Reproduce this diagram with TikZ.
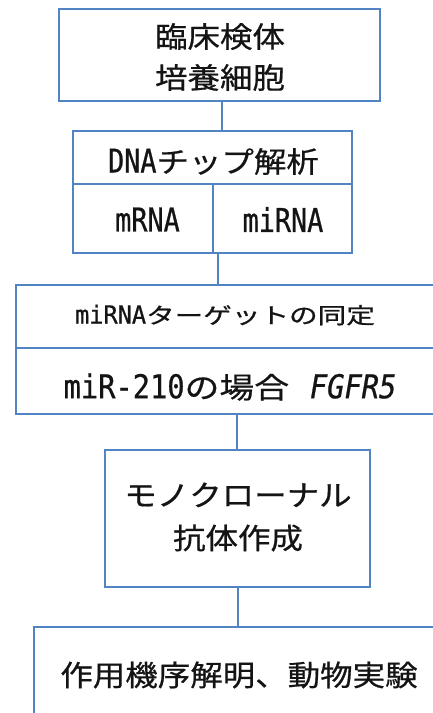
\documentclass[tikz,border=0pt]{standalone}
\usepackage{fontspec}
\usepackage{graphicx}
\newfontfamily\jpfont[FakeBold=0.6]{Noto Sans CJK JP}
\newfontfamily\latfont[FakeStretch=0.73,Scale=1.13,FakeBold=0.6]{DejaVu Sans Mono}
\definecolor{linec}{RGB}{82,132,196}
\definecolor{txtc}{RGB}{20,20,20}
\newcommand{\lt}[1]{{\latfont #1}}
\tikzset{
  cell/.style={draw=linec, line width=1.8pt, minimum width=#1, inner sep=0pt},
  conn/.style={draw=linec, line width=1.8pt},
  txt/.style={text=txtc, inner sep=0pt, align=center, font=\jpfont\fontsize{29}{41}\selectfont},
  smalltxt/.style={text=txtc, inner sep=0pt, align=center, font=\jpfont\fontsize{22}{26}\selectfont}
}
\begin{document}
\begin{tikzpicture}[x=1pt,y=-1pt]
\clip (0,0) rectangle (433,713);
\fill[white] (0,0) rectangle (433,713);
% boxes
\node[cell=321pt, minimum height=92pt] (b1) at (219.5,55) {};
\node[cell=279pt, minimum height=53pt] (b2a) at (212.5,157.5) {};
\node[cell=140pt, minimum height=69pt] (b2b) at (143,218.5) {};
\node[cell=139pt, minimum height=69pt] (b2c) at (282.5,218.5) {};
\node[cell=429pt, minimum height=63pt] (b3a) at (230.5,316.5) {};
\node[cell=429pt, minimum height=66pt] (b3b) at (230.5,381) {};
\node[cell=265pt, minimum height=137pt] (b4) at (237.5,518.5) {};
\node[cell=416pt, minimum height=110pt] (b5) at (242,682) {};
% texts
\node[txt] (t1) at (220,57) {\scalebox{1.12}[1]{臨床検体}\\\scalebox{1.12}[1]{培養細胞}};
\node[txt] (t2) at (213.5,161.5) {\scalebox{1.12}[1]{\lt{DNA}チップ解析}};
\node[txt] (t3) at (147.5,219.5) {\scalebox{1.12}[1]{\lt{mRNA}}};
\node[txt] (t4) at (283,219.5) {\scalebox{1.12}[1]{\lt{miRNA}}};
\node[smalltxt] (t5) at (225,315) {\scalebox{1.3}[1]{{\latfont\fontsize{22}{26}\selectfont miRNA}ターゲットの同定}};
\node[txt] (t6) at (230,387) {\scalebox{1.2}[1]{\lt{miR-210}の場合\hspace{0.6em}\lt{\itshape FGFR5}}};
\node[txt] (t7) at (238,517) {\scalebox{1.12}[1]{モノクローナル}\\[2pt]\scalebox{1.12}[1]{抗体作成}};
\node[txt] (t8) at (239,675) {\scalebox{1.12}[1]{作用機序解明、動物実験}};
% connectors
\coordinate (j1) at (222,0);
\coordinate (j2) at (218,0);
\coordinate (j3) at (237,0);
\coordinate (j4) at (238,0);
\draw[conn] (b1.south -| j1) -- (b2a.north -| j1);
\draw[conn] (b2b.south -| j2) -- (b3a.north -| j2);
\draw[conn] (b3b.south -| j3) -- (b4.north -| j3);
\draw[conn] (b4.south -| j4) -- (b5.north -| j4);
\end{tikzpicture}
\end{document}
